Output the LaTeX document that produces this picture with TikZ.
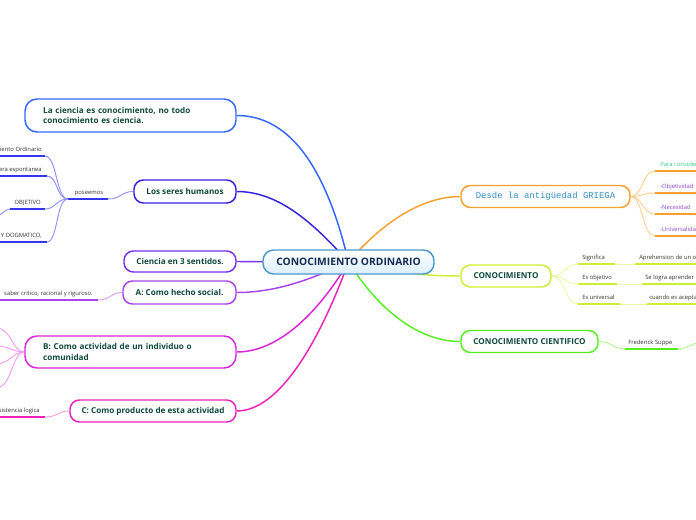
\documentclass[tikz,border=0pt]{standalone}
\usepackage{fontspec}
\setmainfont{Open Sans}
\newfontfamily\monof{Liberation Mono}
\usetikzlibrary{backgrounds}
\definecolor{txtg}{HTML}{0F4A3A}
\definecolor{ctxt}{HTML}{152A55}
\definecolor{cbord}{HTML}{4A98D0}
\definecolor{cfillb}{HTML}{DCEEFA}
\definecolor{smallgray}{HTML}{333333}
\definecolor{cBlue}{HTML}{3366FF}
\definecolor{cIndigo}{HTML}{3322DD}
\definecolor{cIndigoU}{HTML}{3535EE}
\definecolor{cIndigoL}{HTML}{9090FF}
\definecolor{cViolet}{HTML}{7733EE}
\definecolor{cPurple}{HTML}{AA44EE}
\definecolor{cPurpleL}{HTML}{D8A0F8}
\definecolor{cMagenta}{HTML}{DD22DD}
\definecolor{cMagentaL}{HTML}{F49CF4}
\definecolor{cPink}{HTML}{EE22BB}
\definecolor{cPinkL}{HTML}{F8A0DC}
\definecolor{cOrange}{HTML}{F7A030}
\definecolor{cOrangeL}{HTML}{FDD090}
\definecolor{cYellow}{HTML}{CCEE33}
\definecolor{cYellowL}{HTML}{E8F8A8}
\definecolor{cGreen}{HTML}{55EE22}
\definecolor{cGreenL}{HTML}{B0F890}
\definecolor{tGreen}{HTML}{33CC88}
\definecolor{tPurple}{HTML}{8844CC}
\definecolor{tMono}{HTML}{3090C8}
\begin{document}
\begin{tikzpicture}[x=0.75pt,y=-0.75pt,
  box/.style={draw, fill=white, rounded corners=7pt, line width=1.1pt, inner sep=0pt,
    font=\fontsize{6.1}{7.6}\selectfont\bfseries, text=txtg},
  small/.style={font=\fontsize{4.4}{5}\selectfont, text=smallgray, inner sep=0pt},
  mainline/.style={line width=1.1pt},
  subline/.style={line width=0.7pt},
  uline/.style={line width=1.5pt},
]
\useasboundingbox (0,0) rectangle (696,520);
\clip (0,0) rectangle (696,520);

% central
\node[box, draw=cbord, top color=white, bottom color=cfillb, minimum width=128.25pt, minimum height=18pt,
  rounded corners=8pt, text=ctxt, font=\fontsize{7.7}{9}\selectfont\bfseries] (c) at (348.5,262) {CONOCIMIENTO ORDINARIO};

% left nodes
\node[box, draw=cBlue, minimum width=158.25pt, minimum height=24.75pt, text width=131pt, align=left, rounded corners=9pt]
  (n1) at (130.5,115.5) {La ciencia es conocimiento, no todo\\conocimiento es ciencia.};
\node[box, draw=cIndigo, minimum width=76.5pt, minimum height=17.25pt] (n2) at (185,191.5) {Los seres humanos};
\node[box, draw=cViolet, minimum width=84pt, minimum height=15.75pt] (n3) at (180,261.5) {Ciencia en 3 sentidos.};
\node[box, draw=cPurple, minimum width=84.75pt, minimum height=17.25pt] (n4) at (179.5,292.5) {A: Como hecho social.};
\node[box, draw=cMagenta, minimum width=158.25pt, minimum height=24pt, text width=131pt, align=left, rounded corners=9pt]
  (n5) at (130.5,352) {B: Como actividad de un individuo o\\comunidad};
\node[box, draw=cPink, minimum width=124.5pt, minimum height=16.5pt] (n6) at (153,411) {C: Como producto de esta actividad};

% right nodes
\node[box, draw=cOrange, minimum width=126.75pt, minimum height=16.5pt, font=\fontsize{6.7}{8}\selectfont\monof, text=tMono]
  (r1) at (545.5,196.5) {Desde la antigüedad GRIEGA};
\node[box, draw=cYellow, minimum width=67.5pt, minimum height=16.5pt] (r2) at (506,276) {CONOCIMIENTO};
\node[box, draw=cGreen, minimum width=102.75pt, minimum height=16.5pt] (r3) at (529.5,341.5) {CONOCIMIENTO CIENTIFICO};

% ---- sub-branch coordinates and texts
% poseemos group
\coordinate (pL) at (68,199); \coordinate (pR) at (108,199);
\node[small] (pos) at (89,194.5) [anchor=base] {poseemos};
\coordinate (a1L) at (-3,156); \coordinate (a1R) at (45,156);
\node[small, anchor=base east] (a1) at (42,151.5) {Conocimiento Ordinario};
\coordinate (a2L) at (-3,176); \coordinate (a2R) at (47,176);
\node[small, anchor=base east] (a2) at (42,171.5) {de manera espontanea};
\coordinate (a3L) at (10,209); \coordinate (a3R) at (45,209);
\coordinate (a3X) at (-4,216);
\node[small, anchor=base east] (a3) at (41,204.5) {OBJETIVO};
\coordinate (a4L) at (-3,242); \coordinate (a4R) at (47,242);
\node[small, anchor=base east] (a4) at (42,237.5) {Y DOGMATICO,};

% A group
\coordinate (bL) at (-3,300); \coordinate (bR) at (98,300);
\node[small, anchor=base east] (b1) at (93,295.5) {saber critico, racional y riguroso.};

% B group
\coordinate (m1) at (-4,328); \coordinate (m2) at (-4,346);
\coordinate (m3) at (-4,364); \coordinate (m4) at (-4,388);

% C group
\coordinate (cL) at (-3,417); \coordinate (cR) at (45,417);
\node[small, anchor=base east] (c1) at (40,412.5) {consistencia logica};

% Desde group
\coordinate (o1) at (655,171); \coordinate (o1R) at (700,171);
\coordinate (o2) at (655,193); \coordinate (o2R) at (700,193);
\coordinate (o3) at (655,214); \coordinate (o3R) at (700,214);
\coordinate (o4) at (655,236); \coordinate (o4R) at (700,236);
\node[small, anchor=base west, text=tGreen] (ot1) at (660,166.5) {Para considerar};
\node[small, anchor=base west, text=tPurple] (ot2) at (660,188.5) {-Objetividad};
\node[small, anchor=base west, text=tPurple] (ot3) at (660,209.5) {-Necesidad};
\node[small, anchor=base west, text=tPurple] (ot4) at (660,231.5) {-Universalidad};

% CONOCIMIENTO group
\coordinate (y1) at (578,264); \coordinate (y1a) at (615,264); \coordinate (y1b) at (635,264); \coordinate (y1R) at (700,264);
\coordinate (y2) at (578,284); \coordinate (y2a) at (617,284); \coordinate (y2b) at (642,284); \coordinate (y2R) at (700,284);
\coordinate (y3) at (578,304); \coordinate (y3a) at (620,304); \coordinate (y3b) at (647,304); \coordinate (y3R) at (700,304);
\node[small, anchor=base west] (yt1) at (582,259.5) {Significa};
\node[small, anchor=base west] (yt1b) at (639,259.5) {Aprehension de un objeto};
\node[small, anchor=base west] (yt2) at (582,279.5) {Es objetivo};
\node[small, anchor=base west] (yt2b) at (645,279.5) {Se logra aprender};
\node[small, anchor=base west] (yt3) at (582,299.5) {Es universal};
\node[small, anchor=base west] (yt3b) at (649,299.5) {cuando es aceptado};

% CIENTIFICO group
\coordinate (g1) at (625,349); \coordinate (g1a) at (678,349); \coordinate (g1R) at (700,343);
\node[small, anchor=base west] (gt1) at (628,344.5) {Frederick Suppe};

\begin{scope}[on background layer]
\clip (0,0) rectangle (696,520);
% main connectors
\draw[mainline, cBlue] (c.center) .. controls (322,150) and (280,115.5) .. (n1.east);
\draw[mainline, cIndigo] (c.center) .. controls (315,225) and (280,191.5) .. (n2.east);
\draw[mainline, cViolet] (c.center) -- (n3.east);
\draw[mainline, cPurple] (c.center) .. controls (310,280) and (275,292.5) .. (n4.east);
\draw[mainline, cMagenta] (c.center) .. controls (320,310) and (280,352) .. (n5.east);
\draw[mainline, cPink] (c.center) .. controls (320,340) and (280,411) .. (n6.east);
\draw[mainline, cOrange] (c.center) .. controls (380,225) and (420,196.5) .. (r1.west);
\draw[mainline, cYellow] (c.center) .. controls (400,274) and (430,276) .. (r2.west);
\draw[mainline, cGreen] (c.center) .. controls (380,312) and (420,341.5) .. (r3.west);

% poseemos group
\draw[uline, cIndigoU] (pL) -- (pR);
\draw[subline, cIndigoL] (pR) .. controls (121,199) and (121,191.5) .. (n2.west);
\draw[uline, cIndigoU] (a1L) -- (a1R);
\draw[uline, cIndigoU] (a2L) -- (a2R);
\draw[uline, cIndigoU] (a3L) -- (a3R);
\draw[uline, cIndigoU] (a4L) -- (a4R);
\draw[subline, cIndigoL] (pL) .. controls (56,199) and (57,156) .. (a1R);
\draw[subline, cIndigoL] (pL) .. controls (56,199) and (58,176) .. (a2R);
\draw[subline, cIndigoL] (pL) .. controls (56,199) and (56,209) .. (a3R);
\draw[subline, cIndigoL] (pL) .. controls (56,199) and (58,242) .. (a4R);
\draw[subline, cIndigoL] (a3L) .. controls (4,209) and (2,216) .. (a3X);

% A group
\draw[uline, cPurple] (bL) -- (bR);
\draw[subline, cPurpleL] (bR) .. controls (111,300) and (110,292.5) .. (n4.west);

% B group
\draw[subline, cMagentaL] (n5.west) .. controls (12,352) and (12,328) .. (m1);
\draw[subline, cMagentaL] (n5.west) .. controls (12,352) and (10,346) .. (m2);
\draw[subline, cMagentaL] (n5.west) .. controls (12,352) and (10,364) .. (m3);
\draw[subline, cMagentaL] (n5.west) .. controls (12,352) and (12,388) .. (m4);

% C group
\draw[uline, cPink] (cL) -- (cR);
\draw[subline, cPinkL] (cR) .. controls (58,417) and (57,411) .. (n6.west);

% Desde group
\draw[subline, cOrangeL] (r1.east) .. controls (643,196.5) and (642,171) .. (o1);
\draw[subline, cOrangeL] (r1.east) .. controls (643,196.5) and (642,193) .. (o2);
\draw[subline, cOrangeL] (r1.east) .. controls (643,196.5) and (642,214) .. (o3);
\draw[subline, cOrangeL] (r1.east) .. controls (643,196.5) and (642,236) .. (o4);
\draw[uline, cOrange] (o1) -- (o1R);
\draw[uline, cOrange] (o2) -- (o2R);
\draw[uline, cOrange] (o3) -- (o3R);
\draw[uline, cOrange] (o4) -- (o4R);

% CONOCIMIENTO group
\draw[subline, cYellowL] (r2.east) .. controls (565,276) and (565,264) .. (y1);
\draw[subline, cYellowL] (r2.east) .. controls (565,276) and (565,284) .. (y2);
\draw[subline, cYellowL] (r2.east) .. controls (565,276) and (565,304) .. (y3);
\draw[uline, cYellow] (y1) -- (y1a); \draw[subline, cYellowL] (y1a) -- (y1b); \draw[uline, cYellow] (y1b) -- (y1R);
\draw[uline, cYellow] (y2) -- (y2a); \draw[subline, cYellowL] (y2a) -- (y2b); \draw[uline, cYellow] (y2b) -- (y2R);
\draw[uline, cYellow] (y3) -- (y3a); \draw[subline, cYellowL] (y3a) -- (y3b); \draw[uline, cYellow] (y3b) -- (y3R);

% CIENTIFICO group
\draw[subline, cGreenL] (r3.east) .. controls (612,341.5) and (612,349) .. (g1);
\draw[uline, cGreen] (g1) -- (g1a);
\draw[subline, cGreenL] (g1a) .. controls (688,349) and (690,343) .. (g1R);
\end{scope}
\end{tikzpicture}
\end{document}
